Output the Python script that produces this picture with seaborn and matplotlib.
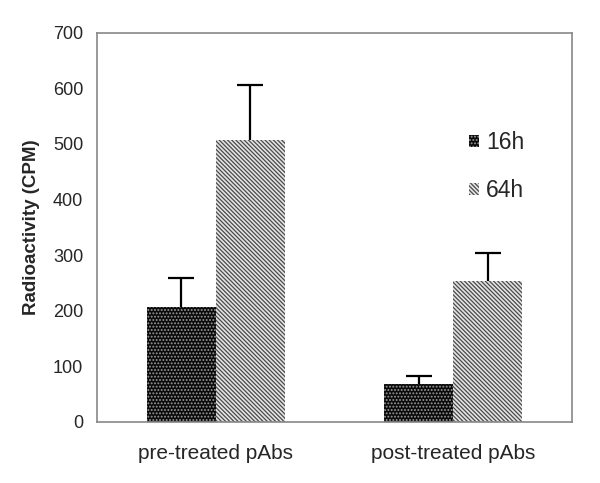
import pandas as pd
import matplotlib
matplotlib.use("Agg")
import matplotlib.pyplot as plt
import seaborn as sns
from matplotlib.patches import Patch

# Data
groups = ["pre-treated pAbs", "post-treated pAbs"]
times = ["16h", "64h"]
mean_16h = [207, 67]
mean_64h = [507, 253]
err_16h = [52, 16]
err_64h = [99, 50]

df = pd.DataFrame({
    "group": groups * 2,
    "time": [times[0]] * 2 + [times[1]] * 2,
    "cpm": mean_16h + mean_64h,
    "err": err_16h + err_64h,
})

sns.set_style("white")
plt.rcParams["font.family"] = ["Liberation Sans", "DejaVu Sans"]
plt.rcParams["hatch.linewidth"] = 0.9

fig, ax = plt.subplots(figsize=(6, 4.83), dpi=100)
sns.barplot(data=df, x="group", y="cpm", hue="time", order=groups, hue_order=times,
            width=0.58, errorbar=None, ax=ax, legend=False)

styles = {
    "16h": dict(face="#0a0a0a", edge="#9c9c9c", hatch="....."),
    "64h": dict(face="#e4e4e4", edge="#4a4a4a", hatch="\\" * 8),
}

# patches come in hue order: 16h bars then 64h bars
bars = [p for p in ax.patches if p.get_height() > 0]
for i, p in enumerate(bars):
    t = times[i // len(groups)]
    g = i % len(groups)
    s = styles[t]
    p.set_facecolor(s["face"])
    p.set_edgecolor(s["edge"])
    p.set_hatch(s["hatch"])
    p.set_linewidth(0)
    err = err_16h[g] if t == "16h" else err_64h[g]
    xc = p.get_x() + p.get_width() / 2
    top = p.get_height() + err
    # upper-only error bar with a single cap
    ax.vlines(xc, p.get_height(), top, color="black", linewidth=1.6, zorder=3)
    ax.hlines(top, xc - 0.055, xc + 0.055, color="black", linewidth=1.6, zorder=3)

ax.set_ylim(0, 700)
ax.set_xlim(-0.5, 1.5)
ax.set_yticks(range(0, 701, 100))
ax.set_xticks([-0.5, 0.5, 1.5], minor=False)
ax.set_xticklabels(["", "", ""])
ax.set_xticks([0, 1], minor=True)
ax.set_xticklabels(groups, minor=True)
ax.tick_params(axis="x", which="minor", length=0, labelsize=15, pad=16)
ax.tick_params(axis="x", which="major", direction="out", length=5, color="#888888")
ax.tick_params(axis="y", direction="in", length=4, color="#888888", labelsize=13, pad=10)
ax.set_xlabel("")
ax.set_ylabel("Radioactivity (CPM)", fontsize=13.5, fontweight="bold", labelpad=9)
for sp in ax.spines.values():
    sp.set_color("#888888")
    sp.set_linewidth(1.2)

handles = [Patch(facecolor=styles[t]["face"], edgecolor=styles[t]["edge"],
                 hatch=styles[t]["hatch"], linewidth=0, label=t) for t in times]
ax.legend(handles=handles, loc="upper left", bbox_to_anchor=(0.74, 0.80), frameon=False,
          fontsize=16.5, handlelength=0.45, handleheight=0.45, handletextpad=0.3,
          labelspacing=1.1)

fig.subplots_adjust(left=0.162, right=0.953, top=0.932, bottom=0.127)
fig.savefig("out.png", dpi=100)
